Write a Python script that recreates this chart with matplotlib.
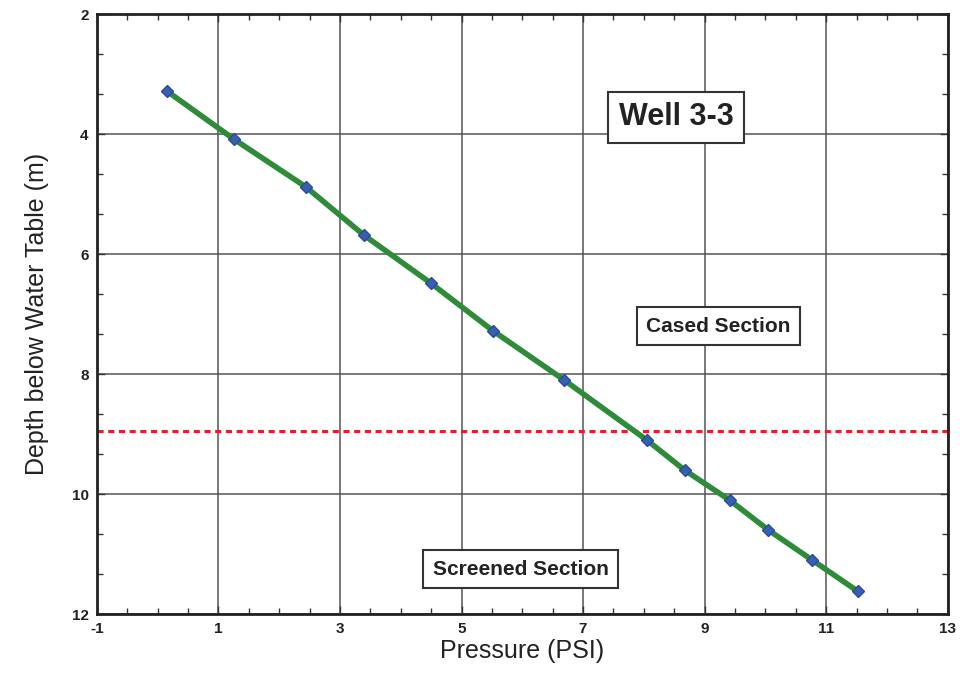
import matplotlib
matplotlib.use("Agg")
import matplotlib.pyplot as plt
from matplotlib.ticker import MultipleLocator

plt.rcParams['font.family'] = ['Liberation Sans', 'DejaVu Sans']
plt.rcParams['axes.unicode_minus'] = False

pressure = [0.15, 1.25, 2.44, 3.39, 4.49, 5.52, 6.69, 8.05, 8.67, 9.41, 10.05, 10.77, 11.52]
depth = [3.28, 4.08, 4.88, 5.68, 6.48, 7.28, 8.1, 9.1, 9.6, 10.1, 10.6, 11.1, 11.62]
casing_depth = 8.95
x_ticks = [-1, 1, 3, 5, 7, 9, 11, 13]
y_ticks = [2, 4, 6, 8, 10, 12]

fig = plt.figure(figsize=(9.69, 6.77), dpi=100)
ax = fig.add_axes([0.100, 0.093, 0.878, 0.886])

ax.set_xlim(-1, 13)
ax.set_ylim(12, 2)
ax.set_xticks(x_ticks)
ax.set_yticks(y_ticks)
ax.xaxis.set_minor_locator(MultipleLocator(0.5))
ax.yaxis.set_minor_locator(MultipleLocator(2/3))
ax.grid(True, which='major', color='#555555', linewidth=1.1)
ax.set_axisbelow(True)
ax.tick_params(which='both', direction='in', top=True, right=True, color='#333333')
ax.tick_params(which='major', length=6, width=1)
ax.tick_params(which='minor', length=4, width=1)
ax.tick_params(axis='x', pad=6)
ax.tick_params(axis='y', pad=6)
for lab in ax.get_xticklabels() + ax.get_yticklabels():
    lab.set_fontweight('bold')
    lab.set_fontsize(11)
    lab.set_color('#222222')
for s in ax.spines.values():
    s.set_linewidth(2)
    s.set_color('#222222')

ax.axhline(casing_depth, color='#e0202a', linestyle=(0, (2, 1.5)), linewidth=2.2, zorder=2)
ax.plot(pressure, depth, color='#2e8b3a', linewidth=4, zorder=3)
ax.plot(pressure, depth, linestyle='none', marker='D', markersize=6,
        markerfacecolor='#3a5fb0', markeredgecolor='#2a4a9a', zorder=4)

box = dict(boxstyle='square,pad=0.45', facecolor='white', edgecolor='#333333', linewidth=1.5)
ax.text(8.53, 3.72, 'Well 3-3', fontsize=22, fontweight='bold', color='#222222',
        ha='center', va='center', bbox=dict(boxstyle='square,pad=0.35', facecolor='white',
                                            edgecolor='#333333', linewidth=1.5), zorder=5)
ax.text(9.23, 7.2, 'Cased Section', fontsize=15, fontweight='bold', color='#222222',
        ha='center', va='center', bbox=box, zorder=5)
ax.text(5.97, 11.25, 'Screened Section', fontsize=15, fontweight='bold', color='#222222',
        ha='center', va='center', bbox=box, zorder=5)

ax.set_xlabel('Pressure (PSI)', fontsize=18, color='#222222', labelpad=2)
ax.set_ylabel('Depth below Water Table (m)', fontsize=18, color='#222222', labelpad=16)

fig.savefig('out.png', dpi=100)
